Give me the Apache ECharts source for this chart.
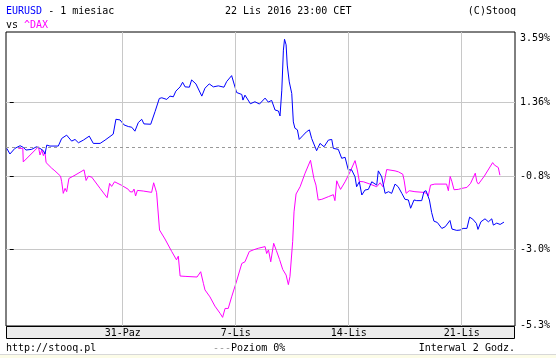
<!DOCTYPE html>
<html><head><meta charset="utf-8">
<script src="https://cdn.jsdelivr.net/npm/echarts@6/dist/echarts.min.js"></script>
<style>html,body{margin:0;padding:0;background:#fff}#c{width:556px;height:358px}</style>
</head><body><div id="c"></div>
<script>
// x in trading days from Mon 24 Oct 2016 00:00 (weekends skipped)
const xTickValues = [5, 10, 15, 20];
const xTickLabels = ['31-Paz', '7-Lis', '14-Lis', '21-Lis'];
const yTickValues = [-5.3, -3.0775, -0.855, 1.3675, 3.59];
const yTickLabels = ['-5.3%', '-3.0%', '-0.8%', '1.36%', '3.59%'];

const eurusd = [[-0.13,-0.02],[0.01,-0.19],[0.23,-0.02],[0.46,0.06],[0.60,0.01],[0.72,-0.07],[0.97,-0.05],[1.19,0.03],[1.34,-0.02],[1.49,-0.09],[1.56,-0.19],[1.64,0.08],[1.78,0.05],[2.15,0.05],[2.30,0.28],[2.52,0.38],[2.59,0.41],[2.74,0.20],[2.89,0.25],[3.04,0.15],[3.26,0.23],[3.33,0.21],[3.52,0.35],[3.70,0.13],[4.00,0.13],[4.22,0.23],[4.29,0.18],[4.58,0.41],[4.70,0.86],[4.88,0.84],[5.06,0.69],[5.25,0.64],[5.40,0.62],[5.54,0.50],[5.69,0.76],[5.84,0.86],[5.94,0.72],[6.24,0.71],[6.43,1.09],[6.62,1.49],[6.73,1.51],[6.95,1.46],[7.09,1.56],[7.24,1.54],[7.35,1.71],[7.54,1.84],[7.65,1.98],[7.76,1.84],[7.95,1.83],[8.05,2.05],[8.24,1.93],[8.50,1.56],[8.64,1.80],[8.83,1.93],[9.01,1.84],[9.23,1.87],[9.48,1.83],[9.60,2.00],[9.82,2.18],[9.89,2.19],[10.04,1.67],[10.27,1.61],[10.32,1.44],[10.41,1.59],[10.65,1.33],[10.85,1.39],[11.05,1.32],[11.30,1.50],[11.44,1.38],[11.59,1.43],[11.74,1.14],[11.89,1.11],[11.96,0.96],[12.04,1.74],[12.11,2.95],[12.16,3.28],[12.23,3.11],[12.28,2.50],[12.37,1.99],[12.48,1.64],[12.55,0.78],[12.62,0.59],[12.73,0.54],[12.81,0.25],[12.99,0.38],[13.13,0.48],[13.26,0.54],[13.36,0.28],[13.58,-0.09],[13.73,0.13],[13.91,0.03],[14.10,0.23],[14.25,0.25],[14.32,-0.02],[14.54,-0.05],[14.69,-0.32],[14.84,-0.29],[14.98,-0.67],[15.13,-0.67],[15.28,-0.88],[15.35,-1.18],[15.47,-1.03],[15.58,-1.43],[15.72,-1.28],[15.87,-1.26],[16.02,-1.03],[16.24,-1.13],[16.31,-0.70],[16.46,-0.88],[16.61,-1.38],[16.76,-1.33],[16.90,-1.38],[17.05,-1.10],[17.19,-1.18],[17.35,-1.38],[17.49,-1.56],[17.64,-1.58],[17.74,-1.83],[17.89,-1.58],[18.01,-1.60],[18.23,-1.60],[18.33,-1.33],[18.42,-1.30],[18.57,-1.58],[18.67,-1.96],[18.77,-2.22],[18.92,-2.26],[19.12,-2.44],[19.27,-2.39],[19.48,-2.20],[19.57,-2.46],[19.78,-2.50],[19.93,-2.49],[20.06,-2.44],[20.23,-2.44],[20.35,-2.10],[20.49,-2.16],[20.65,-2.29],[20.72,-2.47],[20.85,-2.24],[21.03,-2.15],[21.18,-2.24],[21.33,-2.15],[21.40,-2.34],[21.55,-2.28],[21.70,-2.32],[21.87,-2.25]];

const dax = [[0.38,-0.02],[0.58,-0.02],[0.60,-0.43],[1.27,0.03],[1.34,-0.22],[1.42,-0.07],[1.49,-0.24],[1.56,-0.13],[1.61,-0.45],[1.86,-0.62],[2.00,-0.70],[2.25,-0.86],[2.30,-1.03],[2.37,-1.38],[2.45,-1.23],[2.52,-1.33],[2.57,-1.33],[2.62,-0.93],[2.89,-0.83],[3.29,-0.67],[3.38,-0.99],[3.48,-0.86],[3.63,-0.89],[4.00,-1.23],[4.31,-1.51],[4.42,-1.08],[4.51,-1.17],[4.64,-1.03],[4.96,-1.14],[5.25,-1.26],[5.32,-1.33],[5.43,-1.34],[5.50,-1.25],[5.57,-1.46],[5.65,-1.29],[5.91,-1.31],[6.28,-1.35],[6.37,-1.06],[6.50,-1.36],[6.63,-2.49],[6.87,-2.76],[7.17,-3.14],[7.38,-3.39],[7.46,-3.28],[7.54,-3.88],[7.76,-3.89],[8.29,-3.91],[8.45,-3.75],[8.57,-4.10],[8.64,-4.30],[8.86,-4.51],[9.08,-4.79],[9.31,-5.01],[9.42,-5.13],[9.53,-4.86],[9.67,-4.86],[9.82,-4.51],[10.01,-4.10],[10.27,-3.50],[10.41,-3.45],[10.60,-3.14],[10.78,-3.09],[11.00,-3.04],[11.30,-2.99],[11.37,-3.20],[11.45,-3.09],[11.55,-3.45],[11.68,-2.89],[11.80,-3.11],[11.94,-3.38],[12.08,-3.68],[12.23,-3.85],[12.33,-4.14],[12.40,-3.90],[12.52,-2.84],[12.58,-1.94],[12.67,-1.40],[12.85,-1.18],[13.07,-0.77],[13.31,-0.38],[13.46,-0.93],[13.55,-1.13],[13.65,-1.58],[13.81,-1.56],[14.10,-1.48],[14.32,-1.42],[14.39,-1.60],[14.47,-1.00],[14.53,-1.10],[14.64,-1.26],[14.84,-1.03],[15.06,-0.73],[15.28,-0.39],[15.35,-0.33],[15.38,-0.67],[15.47,-1.02],[15.65,-1.03],[15.94,-1.10],[16.24,-1.18],[16.31,-1.23],[16.39,-1.06],[16.51,-1.18],[16.59,-0.98],[16.68,-0.66],[17.05,-0.70],[17.20,-0.73],[17.39,-0.80],[17.45,-0.98],[17.54,-1.38],[17.68,-1.30],[17.93,-1.33],[18.30,-1.35],[18.45,-1.38],[18.52,-1.46],[18.62,-1.13],[18.81,-1.10],[19.33,-1.10],[19.41,-1.30],[19.49,-0.87],[19.56,-1.01],[19.66,-1.27],[19.85,-1.26],[20.00,-1.23],[20.23,-1.20],[20.39,-1.08],[20.60,-0.77],[20.67,-1.03],[20.74,-1.10],[21.00,-0.86],[21.37,-0.45],[21.44,-0.52],[21.62,-0.60],[21.69,-0.83]];

const X_MIN = -0.164, X_MAX = 22.358;
const Y_MIN = -5.391, Y_MAX = 3.499;
const FONT = '10px "DejaVu Sans Mono", monospace';
const FAM = '"DejaVu Sans Mono", monospace';

const yLabelValues = yTickValues.map(v => Math.min(Y_MAX, Math.max(Y_MIN, v)));
function nearestIdx(arr, v) {
  let bi = 0, bd = Infinity;
  arr.forEach((a, i) => { const d = Math.abs(a - v); if (d < bd) { bd = d; bi = i; } });
  return bi;
}

const chart = echarts.init(document.getElementById('c'), null, {renderer: 'canvas'});
chart.setOption({
  animation: false,
  backgroundColor: '#fff',
  textStyle: {fontFamily: FAM, fontSize: 10},
  grid: {left: 6, right: 41, top: 32, height: 294, show: true, borderColor: '#000', borderWidth: 1, backgroundColor: '#fff'},
  xAxis: {
    type: 'value', min: X_MIN, max: X_MAX, z: 5,
    axisLine: {show: false},
    axisTick: {show: false, customValues: xTickValues},
    splitLine: {show: true, lineStyle: {color: '#c8c8c8', width: 1}},
    axisLabel: {
      customValues: xTickValues, margin: 2, color: '#000', fontFamily: FAM, fontSize: 10,
      formatter: v => xTickLabels[nearestIdx(xTickValues, v)]
    }
  },
  yAxis: {
    type: 'value', position: 'right', min: Y_MIN, max: Y_MAX,
    axisLine: {show: false},
    axisTick: {show: true, inside: false, length: 4, lineStyle: {color: '#000'}, customValues: yTickValues.slice(1, 4)},
    splitLine: {show: true, lineStyle: {color: '#c8c8c8', width: 1}},
    axisLabel: {
      customValues: yLabelValues, margin: 5, color: '#000', fontFamily: FAM, fontSize: 10,
      formatter: v => {
        const i = nearestIdx(yLabelValues, v);
        if (i === yLabelValues.length - 1) return '{t|' + yTickLabels[i] + '}';
        if (i === 0) return '{b|' + yTickLabels[i] + '}';
        return yTickLabels[i];
      },
      rich: {
        t: {padding: [12, 0, 0, 0], fontFamily: FAM, fontSize: 10, color: '#000'},
        b: {padding: [4, 0, 0, 0], fontFamily: FAM, fontSize: 10, color: '#000'}
      }
    }
  },
  series: [
    {
      name: '^DAX', type: 'line', data: dax, showSymbol: false, symbol: 'none',
      lineStyle: {color: '#ff00ff', width: 1}, itemStyle: {color: '#ff00ff'}, z: 3,
      markLine: {
        silent: true, symbol: ['none', 'none'], label: {show: false},
        lineStyle: {color: '#999', type: [3, 3], width: 1},
        data: [{yAxis: 0}]
      }
    },
    {
      name: 'EURUSD', type: 'line', data: eurusd, showSymbol: false, symbol: 'none',
      lineStyle: {color: '#0000ff', width: 1}, itemStyle: {color: '#0000ff'}, z: 4
    }
  ],
  graphic: [
    {type: 'rect', z: 1, shape: {x: 6.5, y: 326.5, width: 508, height: 12}, style: {fill: '#ececec', stroke: '#000', lineWidth: 1}},
    {type: 'rect', z: 1, shape: {x: 0, y: 354, width: 556, height: 4}, style: {fill: '#fcfce8'}},
    {type: 'line', z: 1, shape: {x1: 0, y1: 354.5, x2: 556, y2: 354.5}, style: {stroke: '#d8d8d8', lineWidth: 1}},
    {type: 'text', z: 2, x: 6, y: 11, style: {text: '{b|EURUSD}{k| - 1 miesiac}', font: FONT, verticalAlign: 'middle',
      rich: {b: {fill: '#0000ff', font: FONT}, k: {fill: '#000', font: FONT}}}},
    {type: 'text', z: 2, x: 225, y: 11, style: {text: '22 Lis 2016 23:00 CET', font: FONT, fill: '#000', verticalAlign: 'middle'}},
    {type: 'text', z: 2, x: 516, y: 11, style: {text: '(C)Stooq', font: FONT, fill: '#000', align: 'right', verticalAlign: 'middle'}},
    {type: 'text', z: 2, x: 6, y: 25, style: {text: '{k|vs }{m|^DAX}', font: FONT, verticalAlign: 'middle',
      rich: {k: {fill: '#000', font: FONT}, m: {fill: '#ff00ff', font: FONT}}}},
    {type: 'text', z: 2, x: 6, y: 348, style: {text: 'http://stooq.pl', font: FONT, fill: '#000', verticalAlign: 'middle'}},
    {type: 'text', z: 2, x: 213, y: 348, style: {text: '{g|---}{k|Poziom 0%}', font: FONT, verticalAlign: 'middle',
      rich: {g: {fill: '#999', font: FONT}, k: {fill: '#000', font: FONT}}}},
    {type: 'text', z: 2, x: 515, y: 348, style: {text: 'Interwal 2 Godz.', font: FONT, fill: '#000', align: 'right', verticalAlign: 'middle'}}
  ]
});
</script></body></html>
